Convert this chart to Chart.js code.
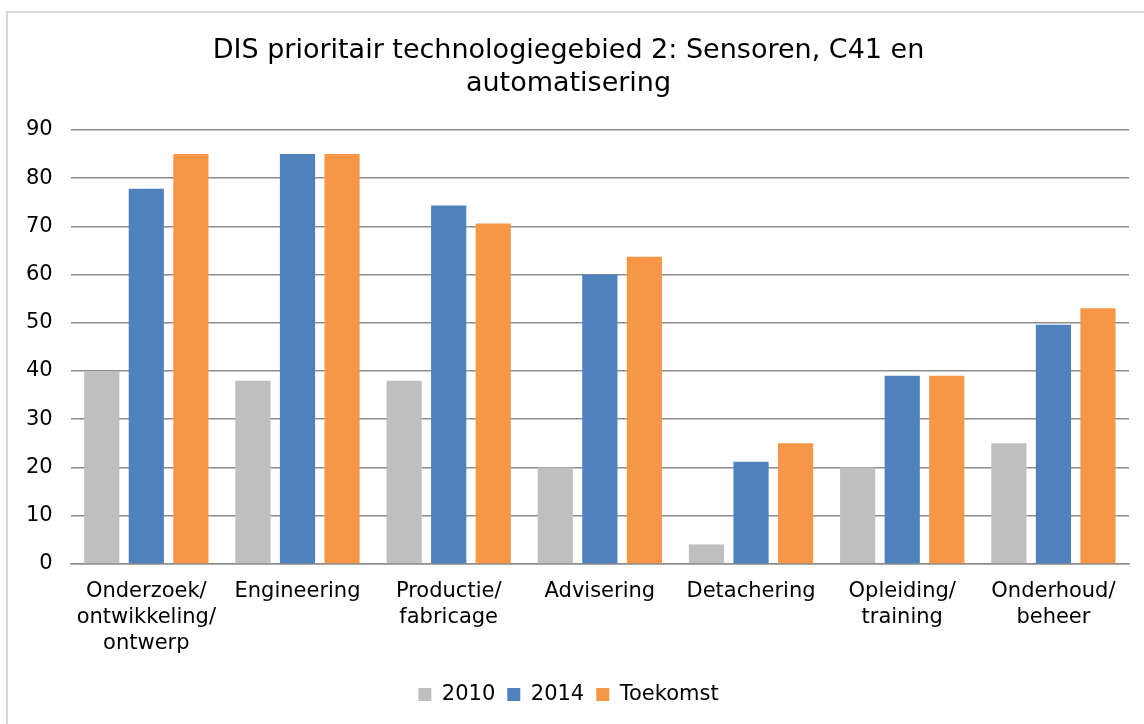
<!DOCTYPE html>
<html>
<head>
<meta charset="utf-8">
<script src="https://cdn.jsdelivr.net/npm/chart.js@4"></script>
<style>
    html, body { margin: 0; padding: 0; background: #fff; }
    body { width: 1144px; height: 724px; overflow: hidden; position: relative; }
    #frame {
        position: absolute; left: 6px; top: 11px;
        width: 1150px; height: 730px;
        border: 2px solid #d9d9d9; box-sizing: border-box;
    }
    #wrap { position: absolute; left: 8px; top: 13px; width: 1136px; height: 711px; }
</style>
</head>
<body>
<div id="frame"></div>
<div id="wrap"><canvas id="sensorChart"></canvas></div>
<script>
// Chart data
const categories = [
    ['Onderzoek/', 'ontwikkeling/', 'ontwerp'],
    'Engineering',
    ['Productie/', 'fabricage'],
    'Advisering',
    'Detachering',
    ['Opleiding/', 'training'],
    ['Onderhoud/', 'beheer']
];
const seriesNames = ['2010', '2014', 'Toekomst'];
const values2010 = [40, 38, 38, 20, 4, 20, 25];
const values2014 = [77.8, 85, 74.3, 60, 21.2, 39, 49.6];
const valuesToekomst = [85, 85, 70.6, 63.7, 25, 39, 53];
const seriesColors = ['#bfbfbf', '#4f81bd', '#f79646'];
const titleLines = ['DIS prioritair technologiegebied 2: Sensoren, C41 en', 'automatisering'];

const fontFamily = '"DejaVu Sans", Verdana, sans-serif';

function makeDataset(idx, data) {
    return {
        label: seriesNames[idx],
        data: data,
        backgroundColor: seriesColors[idx],
        borderWidth: 0,
        categoryPercentage: 0.884,
        barPercentage: 0.79
    };
}

const ctx = document.getElementById('sensorChart').getContext('2d');
new Chart(ctx, {
    type: 'bar',
    data: {
        labels: categories,
        datasets: [
            makeDataset(0, values2010),
            makeDataset(1, values2014),
            makeDataset(2, valuesToekomst)
        ]
    },
    options: {
        responsive: true,
        maintainAspectRatio: false,
        animation: false,
        layout: {
            padding: { left: 0, right: 15, top: 22, bottom: 9 }
        },
        plugins: {
            title: {
                display: true,
                text: titleLines,
                color: '#000',
                font: { family: fontFamily, size: 27, weight: 'normal', lineHeight: 1.22 },
                padding: { top: 0, bottom: 29 }
            },
            legend: {
                position: 'bottom',
                labels: {
                    color: '#000',
                    font: { family: fontFamily, size: 21 },
                    boxWidth: 13,
                    boxHeight: 13,
                    padding: 12
                }
            },
            tooltip: { enabled: false }
        },
        scales: {
            x: {
                grid: { display: false, drawTicks: false },
                border: { display: true, color: '#8c8c8c', width: 1.5 },
                ticks: {
                    color: '#000',
                    font: { family: fontFamily, size: 21, lineHeight: 1.24 },
                    padding: 15,
                    maxRotation: 0,
                    autoSkip: false
                }
            },
            y: {
                min: 0,
                max: 90,
                grid: { color: '#8c8c8c', lineWidth: 1.5, drawTicks: false },
                border: { display: false },
                ticks: {
                    stepSize: 10,
                    color: '#000',
                    font: { family: fontFamily, size: 21 },
                    padding: 18
                }
            }
        }
    }
});
</script>
</body>
</html>
